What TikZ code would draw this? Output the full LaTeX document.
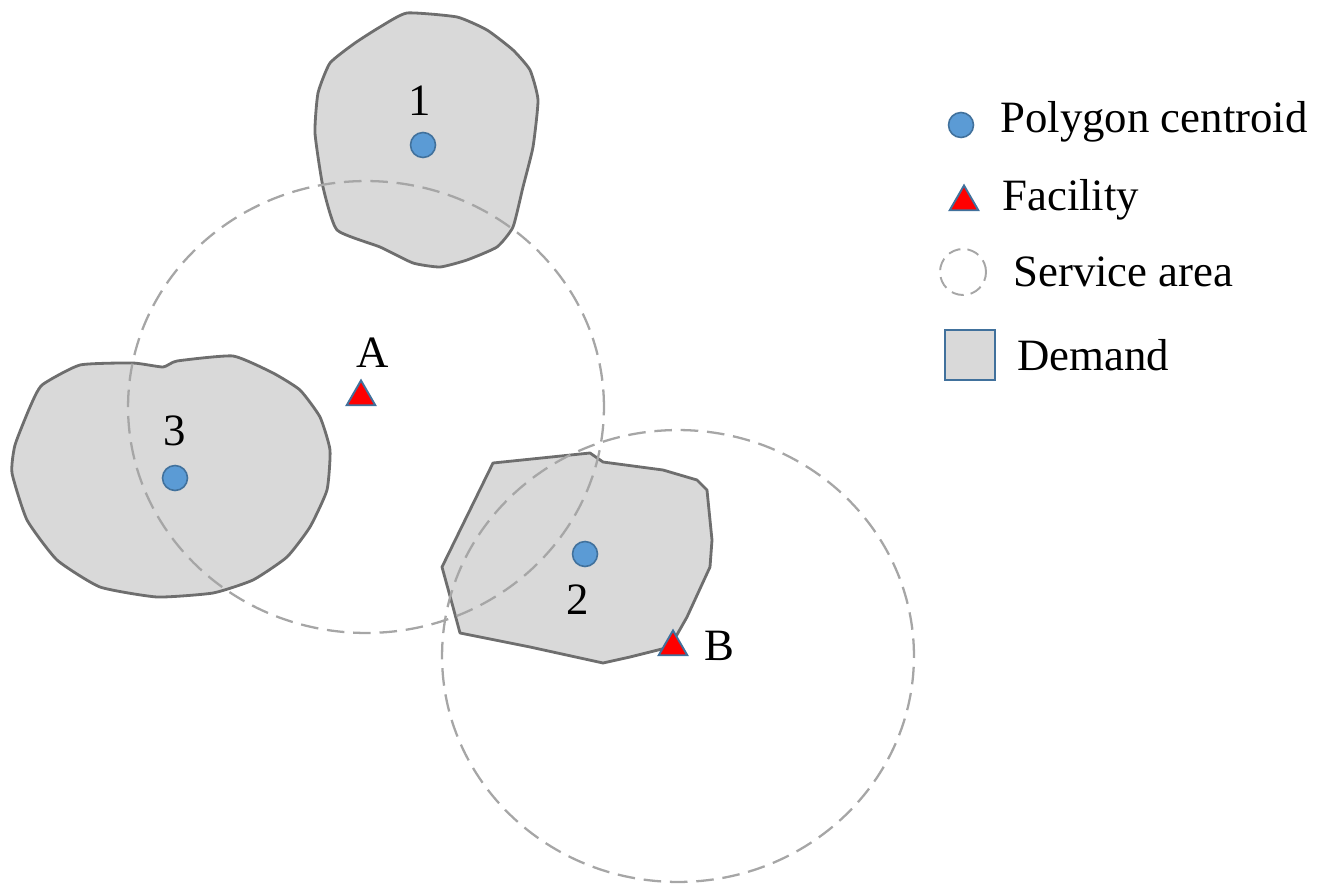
\documentclass[tikz,border=0pt]{standalone}
\usepackage{fontspec}
\setmainfont{Liberation Serif}
\usepackage{tikz}
\usetikzlibrary{shapes.geometric}
\usepackage{xcolor}

\definecolor{zonefill}{HTML}{D9D9D9}
\definecolor{zoneline}{HTML}{6E6E6E}
\definecolor{dotfill}{HTML}{5B9BD5}
\definecolor{dotline}{HTML}{41719C}
\definecolor{ringline}{HTML}{A6A6A6}

\tikzset{
	zone/.style={draw=zoneline, fill=zonefill, line width=1.6pt, line join=round},
	ring/.style={draw=ringline, line width=1.3pt, dash pattern=on 10pt off 5pt},
	centroid/.style={circle, draw=dotline, fill=dotfill, line width=0.9pt, minimum size=0.5cm, inner sep=0pt},
	facility/.style={regular polygon, regular polygon sides=3, draw=dotline, fill=red, line width=1.1pt, minimum size=0.66cm, inner sep=0pt},
	lbl/.style={font=\fontsize{25.5}{30}\selectfont, inner sep=0pt}
}

\begin{document}
\begin{tikzpicture}[x=0.02cm, y=-0.02cm]
					\useasboundingbox (0, 0) rectangle (1328, 885);
					
					% demand polygons
					\draw[zone] plot[smooth cycle, tension=0.3] coordinates {(407, 13) (457, 17) (487, 30) (513, 50) (530, 70) (538, 100) (533, 147) (523, 187) (513, 227) (497, 247) (467, 260) (440, 267) (413, 263) (380, 247) (337, 230) (323, 187) (315, 133) (318, 93) (330, 63) (355, 43) (380, 27)};
					\draw[zone] plot[smooth cycle, tension=0.3] coordinates {(133, 363) (163, 367) (177, 361) (233, 356) (273, 373) (300, 390) (320, 417) (330, 450) (327, 490) (310, 527) (287, 557) (253, 580) (213, 593) (157, 597) (100, 587) (57, 560) (27, 520) (12, 473) (15, 445) (30, 407) (42, 385) (80, 365)};
					\draw[zone] (493, 463) -- (590, 453) -- (603, 462) -- (663, 470) -- (697, 480) -- (707, 490) -- (712, 540) -- (710, 567) -- (687, 617) -- (670, 647) -- (630, 657) -- (603, 663) -- (530, 647) -- (460, 633) -- (453, 607) -- (442, 567) -- cycle;
					
					% service areas
					\draw[ring] (366, 407) ellipse [x radius=4.76cm, y radius=4.52cm];
					\draw[ring] (678, 656) ellipse [x radius=4.72cm, y radius=4.52cm];
					
					% centroids and facilities
					\node[centroid] at (423, 145) (c1) {};
					\node[centroid] at (585, 554) (c2) {};
					\node[centroid] at (175, 478) (c3) {};
					\node[lbl] at (420, 101) (n1) {1};
					\node[lbl] at (578, 600) (n2) {2};
					\node[lbl] at (175, 431) (n3) {3};
					
					\node[facility] at (361, 397) (fa) {};
					\node[facility] at (673, 647) (fb) {};
					\node[lbl] at (373, 353) (na) {A};
					\node[lbl] at (719, 646) (nb) {B};
					
					% legend
					\node[centroid] at (961, 125) (lc) {};
					\node[lbl, anchor=west] at (1000, 122) (lct) {Polygon centroid};
					\node[facility] at (964, 202) (lf) {};
					\node[lbl, anchor=west] at (1002, 200) (lft) {Facility};
					\draw[ring, line width=1.1pt, dash pattern=on 7pt off 4pt] (963, 272) circle [radius=0.46cm];
					\node[lbl, anchor=west] at (1013, 272) (lst) {Service area};
					\node[draw=dotline, fill=zonefill, line width=1.1pt, minimum size=1cm, inner sep=0pt] at (970, 355) (ld) {};
					\node[lbl, anchor=west] at (1017, 355) (ldt) {Demand};
				\end{tikzpicture}
\end{document}
